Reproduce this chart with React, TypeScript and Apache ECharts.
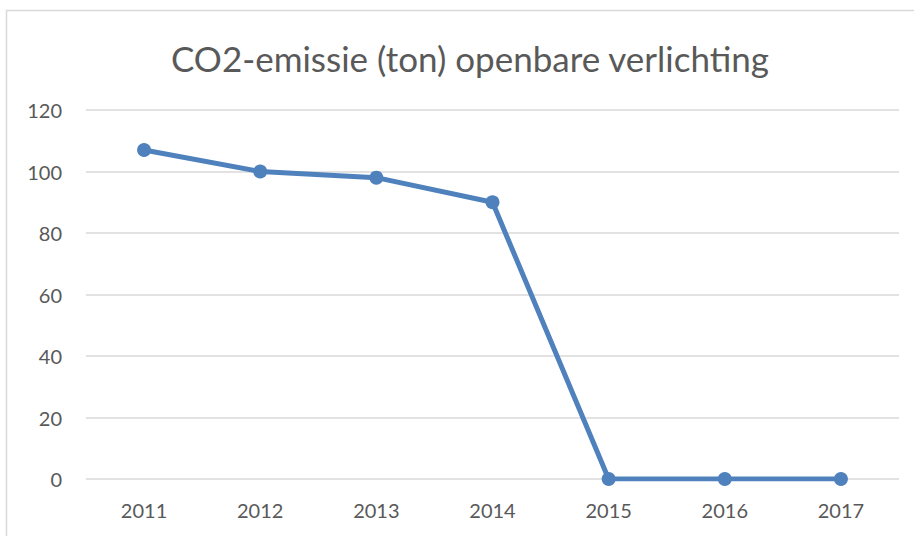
import React, { useEffect, useRef } from "react";
import * as echarts from "echarts";

const years = ["2011", "2012", "2013", "2014", "2015", "2016", "2017"];
const emissions = [107, 100, 98, 90, 0, 0, 0];
const titleText = "CO2-emissie (ton) openbare verlichting";

export default function App() {
  const ref = useRef<HTMLDivElement>(null);
  useEffect(() => {
    const chart = echarts.init(ref.current!, null, { renderer: "svg" });
    chart.setOption({
      animation: false,
      backgroundColor: "#ffffff",
      title: {
        text: titleText,
        left: 465,
        top: 35,
        textAlign: "center",
        textStyle: {
          fontFamily: "Lato",
          fontSize: 35,
          fontWeight: "normal",
          color: "#595959",
        },
      },
      graphic: [
        {
          type: "rect",
          shape: { x: 6.5, y: 10.5, width: 940, height: 560 },
          style: { fill: "none", stroke: "#d9d9d9", lineWidth: 1.5 },
          silent: true,
        },
      ],
      grid: { left: 86, right: 15, top: 110, bottom: 57 },
      xAxis: {
        type: "category",
        data: years,
        axisLine: { show: false },
        axisTick: { show: false },
        axisLabel: {
          fontFamily: "Lato",
          fontSize: 20,
          color: "#595959",
          margin: 21,
        },
      },
      yAxis: {
        type: "value",
        min: 0,
        max: 120,
        interval: 20,
        axisLine: { show: false },
        axisTick: { show: false },
        axisLabel: {
          fontFamily: "Lato",
          fontSize: 20,
          color: "#595959",
          margin: 24,
        },
        splitLine: { lineStyle: { color: "#d9d9d9", width: 1.5 } },
      },
      series: [
        {
          type: "line",
          data: emissions,
          symbol: "circle",
          symbolSize: 14,
          lineStyle: { color: "#4f81bd", width: 5 },
          itemStyle: { color: "#4f81bd" },
        },
      ],
    });
    return () => chart.dispose();
  }, []);
  return (
    <div
      ref={ref}
      style={{ position: "fixed", left: 0, top: 0, width: 914, height: 536 }}
    />
  );
}
